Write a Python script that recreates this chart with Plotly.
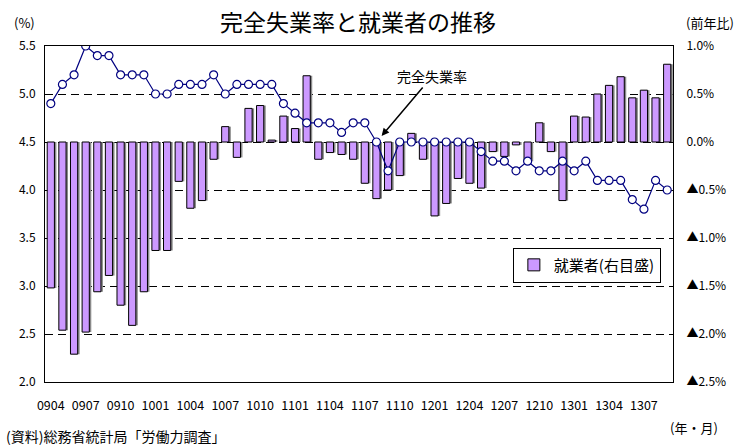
import plotly.graph_objects as go

months = ["0904","0905","0906","0907","0908","0909","0910","0911","0912",
          "1001","1002","1003","1004","1005","1006","1007","1008","1009","1010","1011","1012",
          "1101","1102","1103","1104","1105","1106","1107","1108","1109","1110","1111","1112",
          "1201","1202","1203","1204","1205","1206","1207","1208","1209","1210","1211","1212",
          "1301","1302","1303","1304","1305","1306","1307","1308","1309"]

unemployment = [4.9, 5.1, 5.2, 5.5, 5.4, 5.4, 5.2, 5.2, 5.2,
                5.0, 5.0, 5.1, 5.1, 5.1, 5.2, 5.0, 5.1, 5.1, 5.1, 5.1, 4.9,
                4.8, 4.7, 4.7, 4.7, 4.6, 4.7, 4.7, 4.5, 4.2, 4.5, 4.5, 4.5,
                4.5, 4.5, 4.5, 4.5, 4.4, 4.3, 4.3, 4.2, 4.3, 4.2, 4.2, 4.3,
                4.2, 4.3, 4.1, 4.1, 4.1, 3.9, 3.8, 4.1, 4.0]

employed_yoy = [-1.52, -1.96, -2.21, -1.98, -1.56, -1.39, -1.70, -1.91, -1.56,
                -1.13, -1.13, -0.41, -0.69, -0.61, -0.18, 0.16, -0.16, 0.35, 0.38, 0.02, 0.27,
                0.14, 0.69, -0.18, -0.11, -0.13, -0.18, -0.43, -0.59, -0.50, -0.35, 0.09, -0.18,
                -0.77, -0.64, -0.38, -0.43, -0.48, -0.10, -0.15, -0.03, -0.20, 0.20, -0.10, -0.61,
                0.27, 0.26, 0.50, 0.59, 0.68, 0.46, 0.54, 0.46, 0.81]

tick_labels = ["0904","0907","0910","1001","1004","1007","1010","1101","1104",
               "1107","1110","1201","1204","1207","1210","1301","1304","1307"]

left_ticks = [2.0, 2.5, 3.0, 3.5, 4.0, 4.5, 5.0, 5.5]
right_ticks = [-2.5, -2.0, -1.5, -1.0, -0.5, 0.0, 0.5, 1.0]
right_labels = ["▲2.5%", "▲2.0%", "▲1.5%", "▲1.0%", "▲0.5%", "0.0%", "0.5%", "1.0%"]

FONT = "Noto Sans CJK JP"
xs = list(range(len(months)))
tickpos = [months.index(t) for t in tick_labels]
boundaries = [i + 0.5 for i in xs[:-1]]

fig = go.Figure()

# bar shadow
fig.add_trace(go.Bar(x=xs, y=employed_yoy, width=0.62, offset=-0.14,
                     marker=dict(color="#8a8a8a", line=dict(width=0)),
                     showlegend=False, hoverinfo="skip", yaxis="y"))
fig.add_trace(go.Bar(x=xs, y=employed_yoy, width=0.62, offset=-0.31,
                     marker=dict(color="#CC99FF", line=dict(color="black", width=1)),
                     name="就業者(右目盛)", yaxis="y"))
fig.add_trace(go.Scatter(x=xs, y=unemployment, mode="lines+markers",
                         line=dict(color="#000080", width=1.2),
                         marker=dict(symbol="circle", size=8, color="white",
                                     line=dict(color="#000080", width=1.2)),
                         name="完全失業率", showlegend=False, yaxis="y2"))

fig.update_layout(
    width=739, height=447,
    margin=dict(l=45, r=66, t=46, b=65, autoexpand=False),
    paper_bgcolor="white", plot_bgcolor="white",
    barmode="overlay",
    font=dict(family=FONT, size=12, color="black"),
    showlegend=True,
    legend=dict(x=0.745, y=0.40, xanchor="left", yanchor="top",
                bgcolor="white", bordercolor="black", borderwidth=1,
                font=dict(size=15, family=FONT), itemwidth=30,
                tracegroupgap=0),
    xaxis=dict(range=[-0.5, len(months) - 0.5], tickmode="array",
               tickvals=tickpos, ticktext=tick_labels, ticks="",
               showline=True, linecolor="black", linewidth=1, mirror=True,
               showgrid=False, zeroline=False, ticklabelstandoff=12,
               tickfont=dict(size=12.5), automargin=False),
    xaxis2=dict(range=[-0.5, len(months) - 0.5], overlaying="x", anchor="y",
                side="bottom", tickmode="array", tickvals=boundaries,
                ticks="inside", ticklen=4, tickcolor="black", tickwidth=1,
                showticklabels=False, showgrid=False, zeroline=False, showline=False,
                automargin=False),
    yaxis=dict(side="right", range=[-2.5, 1.0], tickmode="array",
               tickvals=right_ticks, ticktext=right_labels, ticks="",
               showline=True, linecolor="black", linewidth=1,
               showgrid=True, gridcolor="black", gridwidth=1, griddash="8px,5px",
               zeroline=False, ticklabelstandoff=10, automargin=False),
    yaxis2=dict(side="left", overlaying="y", range=[2.0, 5.5], tickmode="array",
                tickvals=left_ticks, ticktext=[f"{v:.1f}" for v in left_ticks],
                ticks="", showline=True, linecolor="black", linewidth=1,
                showgrid=False, zeroline=False, ticklabelstandoff=6, automargin=False),
)

fig.add_annotation(text="完全失業率と就業者の推移", xref="paper", yref="paper",
                   x=0.499, y=1, xanchor="center", yanchor="middle", yshift=25,
                   showarrow=False, font=dict(size=23, family=FONT))
fig.add_annotation(text="(%)", xref="paper", yref="paper", x=-0.032, y=1,
                   xanchor="center", yanchor="middle", yshift=24,
                   showarrow=False, font=dict(size=13, family=FONT))
fig.add_annotation(text="(前年比)", xref="paper", yref="paper", x=1.059, y=1,
                   xanchor="center", yanchor="middle", yshift=24,
                   showarrow=False, font=dict(size=13, family=FONT))
fig.add_annotation(text="(年・月)", xref="paper", yref="paper", x=1.033, y=0,
                   xanchor="center", yanchor="middle", yshift=-45,
                   showarrow=False, font=dict(size=13, family=FONT))
fig.add_annotation(text="(資料)総務省統計局「労働力調査」", xref="paper", yref="paper",
                   x=-0.066, y=0, xanchor="left", yanchor="middle", yshift=-54,
                   showarrow=False, font=dict(size=14, family=FONT))
fig.add_annotation(text="完全失業率", x=months.index("1108"), y=unemployment[months.index("1108")],
                   xref="x", yref="y2", ax=56, ay=-66, showarrow=True,
                   arrowhead=2, arrowsize=1, arrowwidth=1.5, arrowcolor="black",
                   standoff=8, font=dict(size=14, family=FONT))

fig.write_html("out.html", config={"displayModeBar": False},
               post_script="document.body.style.margin='0';")
